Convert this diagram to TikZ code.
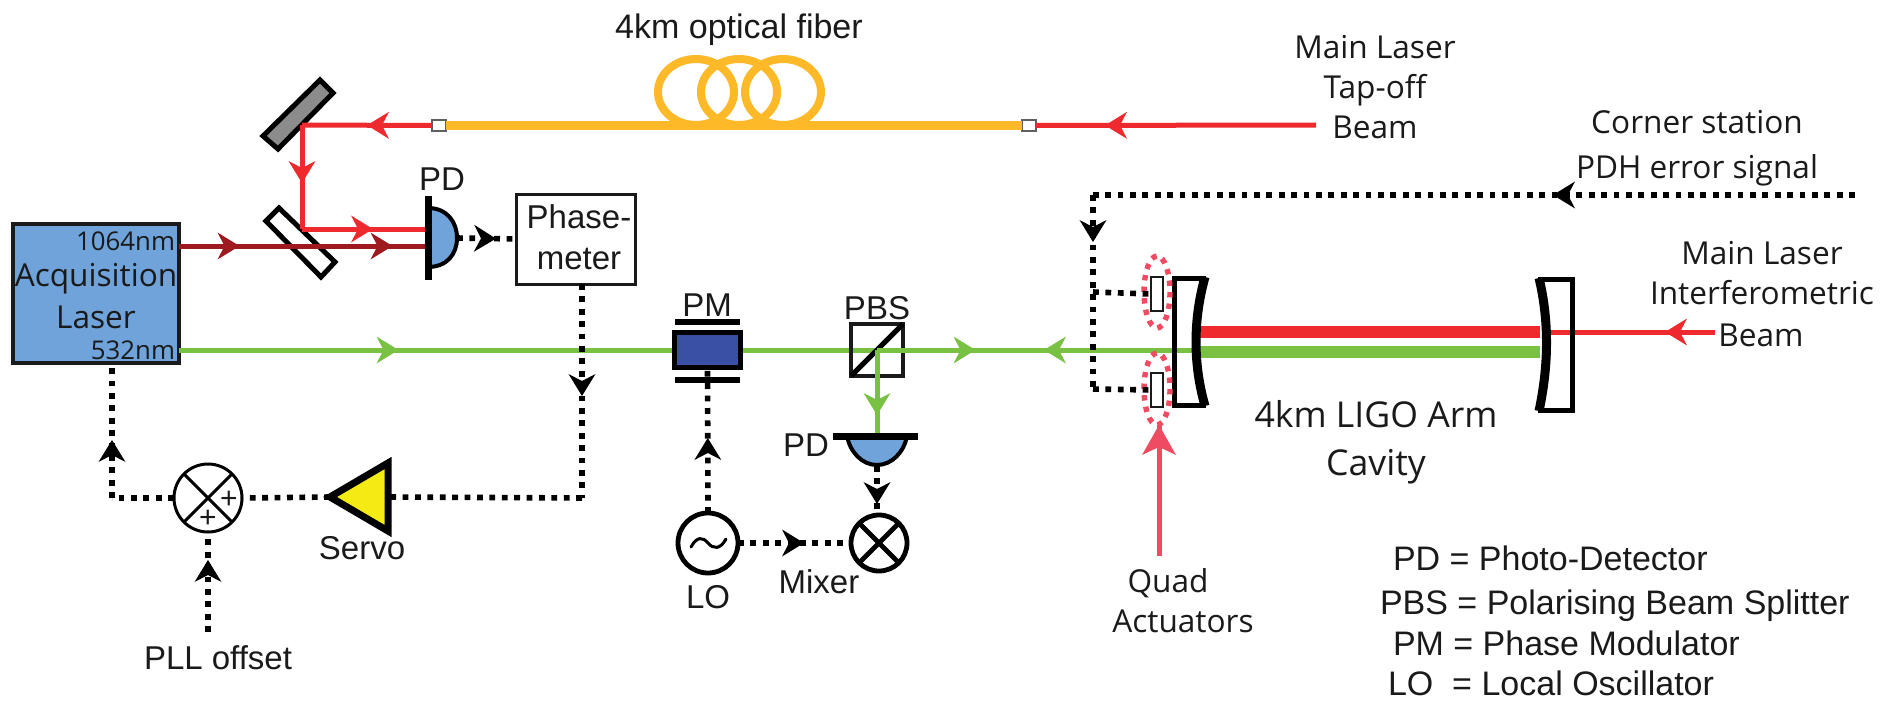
\documentclass[tikz,border=0pt]{standalone}
\usepackage{fontspec}
\setmainfont{Liberation Sans}
\newfontfamily\myr{Open Sans}
\usetikzlibrary{arrows.meta,decorations.markings,shapes.geometric}
\definecolor{cRed}{HTML}{EE2A2E}
\definecolor{cDark}{HTML}{9E1A1E}
\definecolor{cGreen}{HTML}{79C143}
\definecolor{cYel}{HTML}{FDB927}
\definecolor{cBlue}{HTML}{6FA3DA}
\definecolor{cPink}{HTML}{EF4B63}
\definecolor{cNavy}{HTML}{3A50A4}
\definecolor{cServo}{HTML}{F5EB14}
\definecolor{cInk}{HTML}{1A1A1A}
\tikzset{
 x=0.5pt,y=-0.5pt,
 headat/.style={postaction={decorate,decoration={markings,mark=at position #1*0.5pt with {\arrow{Stealth[length=11pt,width=13.5pt,inset=3.5pt,line width=0pt]}}}}},
 bighead/.style={postaction={decorate,decoration={markings,mark=at position #1*0.5pt with {\arrow{Stealth[length=15pt,width=17pt,inset=4pt,line width=0pt]}}}}},
 redbeam/.style={cRed,line width=2.5pt},
 darkbeam/.style={cDark,line width=2.5pt},
 greenbeam/.style={cGreen,line width=2.5pt},
 pinkbeam/.style={cPink,line width=2.5pt},
 fibre/.style={cYel,line width=4pt},
 signal/.style={black,line width=2.8pt,dash pattern=on 2.9pt off 3.3pt},
 halo/.style={cPink,line width=2.7pt,dash pattern=on 2.7pt off 3.1pt},
 boxsize/.style 2 args={minimum width=#1*0.5pt,minimum height=#2*0.5pt,inner sep=0pt,outer sep=0pt},
 lab/.style={inner sep=0pt,outer sep=0pt,text=cInk,font=\fontsize{16.5}{19}\selectfont,text height=11.8pt,text depth=0pt},
 labm/.style={inner sep=0pt,outer sep=0pt,text=cInk,font=\myr\fontsize{15.8}{19}\selectfont,text height=11.3pt,text depth=0pt},
 labw/.style={labm,font=\myr\fontsize{12.9}{19}\selectfont,text height=9.3pt},
 labc/.style={labm,font=\myr\fontsize{17.8}{19}\selectfont,text height=12.7pt},
 legend/.style={lab,anchor=west,font=\fontsize{17}{19}\selectfont,text height=12.2pt},
 ring/.style={circle,draw=black,fill=white,inner sep=0pt,outer sep=0pt},
}
\begin{document}
\begin{tikzpicture}
\useasboundingbox (0,0) rectangle (1883,706);
\fill[white] (0,0) rectangle (1883,706);

% named free ends and junctions
\coordinate (redTop) at (302,125);
\coordinate (redJoin) at (302,229);
\coordinate (pdRed) at (426,229);
\coordinate (pdDark) at (426,246);
\coordinate (tapEnd) at (1316,125);
\coordinate (servoTip) at (330,497);
\coordinate (servoBack) at (390,497);
\coordinate (phaseTurn) at (582,498);
\coordinate (laserTurn) at (112,498);
\coordinate (pll) at (208,632);
\coordinate (pdhEnd) at (1855,195);
\coordinate (pdhTurn) at (1093,195);
\coordinate (pdhLow) at (1093,389);
\coordinate (pdhMid) at (1093,292);
\coordinate (quadEnd) at (1159,556);
\coordinate (quadTip) at (1159,425);
\coordinate (ifoEnd) at (1715,332);
\coordinate (rearIn) at (1545,332);
\coordinate (frontRed) at (1200,332);
\coordinate (rearRed) at (1540,332);
\coordinate (frontGreen) at (1200,352);
\coordinate (rearGreen) at (1540,352);
\coordinate (frontThin) at (1194,350);
\coordinate (pbsOut) at (877,350);
\coordinate (greenDown) at (877,436);
\coordinate (pd1out) at (457,238);
\coordinate (pd2out) at (877,466);

% fibre
\foreach \cx in {696,739,783} \draw[fibre] (\cx,92) ellipse [x radius=38,y radius=33];
\node[draw=cInk!70,fill=white,line width=1pt,boxsize={14}{10}] (fibL) at (439,125.5) {};
\node[draw=cInk!70,fill=white,line width=1pt,boxsize={14}{10}] (fibR) at (1029,125.5) {};
\draw[fibre] (fibL.east) -- (fibR.west);
\draw[redbeam,headat=211] (tapEnd) -- (fibR.east);
\node[lab,font=\fontsize{17}{19}\selectfont] (tFiber) at (739,27) {4km optical fiber};

% mirror, beamsplitter
\draw[black,fill=black!45,line width=2.5pt,line join=miter] (320,80) -- (333,93) -- (278,149) -- (263,136) -- cycle;
\draw[black,fill=white,line width=2.5pt] (279,208) -- (335,262) -- (321,277) -- (266,221) -- cycle;
\draw[redbeam,headat=65] (fibL.west) -- (redTop);
\draw[redbeam,headat=58] (redTop) -- (redJoin);
\draw[redbeam,headat=71] (redJoin) -- (pdRed);

% laser
\node[draw=cInk,fill=cBlue,line width=2pt,boxsize={166}{139}] (laser) at (95.5,293.5) {};
\draw[darkbeam,headat=61,headat=214] (laser.east |- pdDark) -- (pdDark);
\node[labw,anchor=east] (t1064) at (175,241) {1064nm};
\node[labm] (tAcq) at (96,275) {Acquisition};
\node[labm] (tLas) at (96,317) {Laser};
\node[labw,anchor=east] (t532) at (175,350) {532nm};

% green main line
\draw[greenbeam,headat=220,headat=797] (laser.east |- pbsOut) -- (pbsOut) -- (frontThin);
\draw[greenbeam,headat=150] (frontThin) -- (pbsOut);

% PD 1
\draw[black,fill=cBlue,line width=2pt] (428,208) .. controls (447,208) and (457,222) .. (457,238) .. controls (457,254) and (447,267) .. (428,267) -- cycle;
\draw[black,line width=3.5pt] (428,196) -- (428,280);
\node[lab] (tPD1) at (442,179) {PD};

% phasemeter
\node[draw=cInk,fill=white,line width=1.5pt,boxsize={119}{90}] (phase) at (576,239) {};
\node[lab] (tPh1) at (579,217) {Phase-};
\node[lab] (tPh2) at (579,258) {meter};
\draw[signal,headat=39] (pd1out) -- (phase.west);
\draw[signal,headat=112] (phase.south -| phaseTurn) -- (phaseTurn);

% servo and summing junction
\draw[black,fill=cServo,line width=3.5pt,line join=miter] (servoTip) -- (388,463) -- (388,531) -- cycle;
\node[lab] (tServo) at (362,548) {Servo};
\node[ring,line width=1.5pt,minimum size=34pt] (sum) at (208,498) {};
\draw[black,line width=1.5pt] (sum.45) -- (sum.225) (sum.135) -- (sum.315);
\node[inner sep=0pt,text=cInk,font=\fontsize{15}{15}\selectfont] (plusA) at (229,500) {+};
\node[inner sep=0pt,text=cInk,font=\fontsize{15}{15}\selectfont] (plusB) at (208,519) {+};
\draw[signal] (phaseTurn) -- (servoBack);
\draw[signal] (servoTip) -- (sum.east);
\draw[signal] (sum.west) -- (laserTurn);
\draw[signal,headat=58] (laserTurn) -- (laser.south -| laserTurn);
\draw[signal,headat=72] (pll) -- (sum.south);
\node[lab] (tPLL) at (218,658) {PLL offset};

% phase modulator
\draw[black,line width=3pt] (675,322) -- (740,322) (675,380) -- (740,380);
\node[draw=black,fill=cNavy,line width=2.5pt,boxsize={66}{35}] (pm) at (707.5,350) {};
\node[lab] (tPM) at (707,305) {PM};

% PBS
\node[draw=cInk,line width=1.8pt,boxsize={52}{52}] (pbs) at (877,350) {};
\draw[black,line width=2.5pt] (pbs.south west) -- (pbs.north east);
\node[lab] (tPBS) at (877,308) {PBS};
\draw[greenbeam,headat=65] (pbsOut) -- (greenDown);

% PD 2
\draw[black,fill=cBlue,line width=2pt] (847,436) .. controls (850,452) and (862,465) .. (877,465) .. controls (892,465) and (904,452) .. (907,436) -- cycle;
\draw[black,line width=3.5pt] (833,436) -- (918,436);
\node[lab] (tPD2) at (806,445) {PD};

% LO, mixer
\node[ring,line width=2.4pt,minimum size=30pt] (lo) at (708,543) {};
\draw[black,line width=1.5pt,line cap=round] (691,547) .. controls (697,536) and (703,537) .. (708,543) .. controls (713,549) and (720,550) .. (726,539);
\node[ring,line width=2.4pt,minimum size=28pt] (mix) at (879,543) {};
\draw[black,line width=2.4pt] (mix.45) -- (mix.225) (mix.135) -- (mix.315);
\draw[signal,headat=75] (lo.north) -- (pm.south);
\draw[signal,headat=66] (lo.east) -- (mix.west);
\draw[signal,headat=38] (pd2out) -- (mix.north -| pd2out);
\node[lab] (tLO) at (708,597) {LO};
\node[lab] (tMix) at (819,582) {Mixer};

% cavity
\fill[white] (1174,278) -- (1206,278) .. controls (1194,320) and (1194,364) .. (1206,405) -- (1174,405) -- cycle;
\fill[white] (1538,279) .. controls (1548,320) and (1548,364) .. (1538,410) -- (1572,410) -- (1572,279) -- cycle;
\draw[greenbeam] (pbsOut) -- (frontThin);
\draw[cRed,line width=6pt] (frontRed) -- (rearRed);
\draw[cGreen,line width=6pt] (frontGreen) -- (rearGreen);
\draw[redbeam,headat=50] (ifoEnd) -- (rearIn);
\draw[black,line width=2.5pt,line join=miter] (1206,278) -- (1174,278) -- (1174,405) -- (1206,405);
\draw[black,line width=4.5pt] (1205,277) .. controls (1193,320) and (1193,364) .. (1205,406);
\draw[black,line width=2.5pt,line join=miter] (1538,279) -- (1572,279) -- (1572,410) -- (1538,410);
\draw[black,line width=4.5pt] (1539,278) .. controls (1549,320) and (1549,364) .. (1539,411);
\node[labc] (tCav1) at (1376,415) {4km LIGO Arm};
\node[labc] (tCav2) at (1376,463) {Cavity};
\node[labm] (tTap1) at (1375,47) {Main Laser};
\node[labm] (tTap2) at (1375,87) {Tap-off};
\node[labm] (tTap3) at (1375,127) {Beam};
\node[labm] (tCor1) at (1697,122) {Corner station};
\node[labm] (tCor2) at (1697,167) {PDH error signal};
\node[labm] (tIfo1) at (1762,253) {Main Laser};
\node[labm] (tIfo2) at (1762,293) {Interferometric};
\node[labm] (tIfo3) at (1761,335) {Beam};

% actuators
\draw[halo] (1157,292) ellipse [x radius=13,y radius=36];
\draw[halo] (1157,389) ellipse [x radius=13,y radius=36];
\node[draw=cInk,fill=white,line width=1.2pt,boxsize={12}{34}] (actA) at (1157,294) {};
\node[draw=cInk,fill=white,line width=1.2pt,boxsize={12}{34}] (actB) at (1157,390) {};
\draw[signal,headat=302] (pdhEnd) -- (pdhTurn);
\draw[signal,headat=47] (pdhTurn) -- (pdhLow);
\draw[signal] (pdhMid) -- (actA.west);
\draw[signal] (pdhLow) -- (actB.west);
\draw[pinkbeam,bighead=131] (quadEnd) -- (quadTip);
\node[labm] (tQ1) at (1168,581) {Quad};
\node[labm] (tQ2) at (1183,621) {Actuators};

% legend
\node[legend] (l1) at (1393,558) {PD = Photo-Detector};
\node[legend] (l2) at (1380,602) {PBS = Polarising Beam Splitter};
\node[legend] (l3) at (1393,643) {PM = Phase Modulator};
\node[legend] (l4) at (1388,683) {LO\ \ = Local Oscillator};
\end{tikzpicture}
\end{document}
